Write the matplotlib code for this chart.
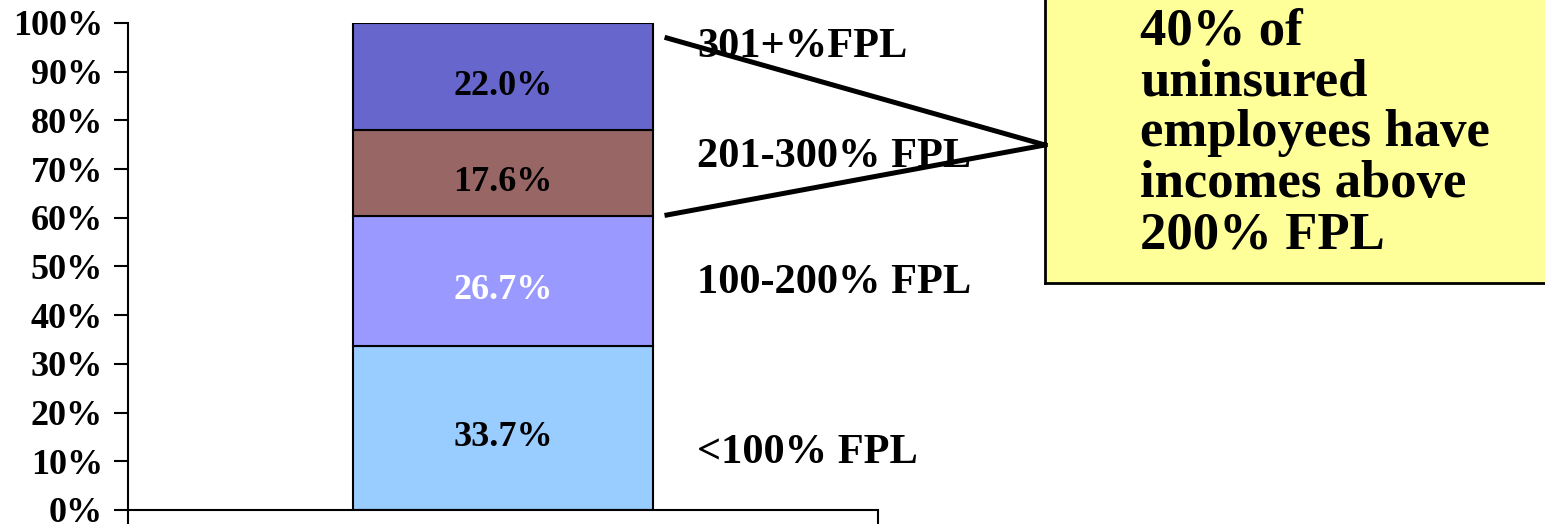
import matplotlib.pyplot as plt
import matplotlib.transforms as mtransforms
import numpy as np

# income groups of uninsured employees, bottom to top
groups = ['<100% FPL', '100-200% FPL', '201-300% FPL', '301+%FPL']
shares = [33.7, 26.7, 17.6, 22.0]
colors = ['#99CCFF', '#9999FF', '#996666', '#6666CC']
value_colors = ['black', 'white', 'black', 'black']
callout = '40% of\nuninsured\nemployees have\nincomes above\n200% FPL'

plt.rcParams['font.family'] = ['Liberation Serif', 'DejaVu Serif']
plt.rcParams['font.weight'] = 'bold'

fig = plt.figure(figsize=(15.45, 5.27), dpi=100)
ax = fig.add_axes([0.0828, 0.0323, 0.4854, 0.9241])

bottom = 0
for share, col, tcol in zip(shares, colors, value_colors):
    ax.bar(0, share, bottom=bottom, width=0.8, color=col, edgecolor='black', linewidth=1.5)
    ax.text(0, bottom + share / 2 - 2.0, f'{share:.1f}%', ha='center', va='center',
            fontsize=26, fontweight='bold', color=tcol)
    bottom += share

ax.set_xlim(-1, 1)
ax.set_ylim(0, 100)
ax.set_yticks(np.arange(0, 101, 10))
ax.set_yticklabels([f'{v}%' for v in range(0, 101, 10)], fontsize=26, fontweight='bold')
ax.set_xticks([-1, 1])
ax.set_xticklabels([])
ax.tick_params(axis='y', length=10, width=1.5, pad=8)
ax.tick_params(axis='x', length=10, width=1.5)
for side in ['top', 'right']:
    ax.spines[side].set_visible(False)
for side in ['left', 'bottom']:
    ax.spines[side].set_linewidth(1.5)

# group labels to the right of the bar
label_y = [11.7, 46.6, 72.5, 95.0]
trans = mtransforms.blended_transform_factory(ax.transAxes, ax.transData)
for name, y in zip(groups, label_y):
    ax.text(0.759, y, name, transform=trans, ha='left', va='center',
            fontsize=30.5, fontweight='bold', clip_on=False)

# callout box
box = fig.add_axes([1045 / 1545, 1 - 283 / 527, 1 - 1045 / 1545 + 0.01, 283 / 527 + 0.01])
box.set_facecolor('#FFFF99')
box.set_xticks([])
box.set_yticks([])
for sp in box.spines.values():
    sp.set_linewidth(2)
box.text(93 / 505, 0.52, callout, transform=box.transAxes, ha='left', va='center',
         fontsize=38, fontweight='bold', linespacing=1.08)

# pointer lines from bar to callout
fig.add_artist(plt.Line2D([667 / 1545, 1045 / 1545], [1 - 38 / 527, 1 - 145 / 527],
                          transform=fig.transFigure, color='black', linewidth=3.6))
fig.add_artist(plt.Line2D([667 / 1545, 1045 / 1545], [1 - 215 / 527, 1 - 145 / 527],
                          transform=fig.transFigure, color='black', linewidth=3.6))

fig.savefig('out.png', dpi=100)
